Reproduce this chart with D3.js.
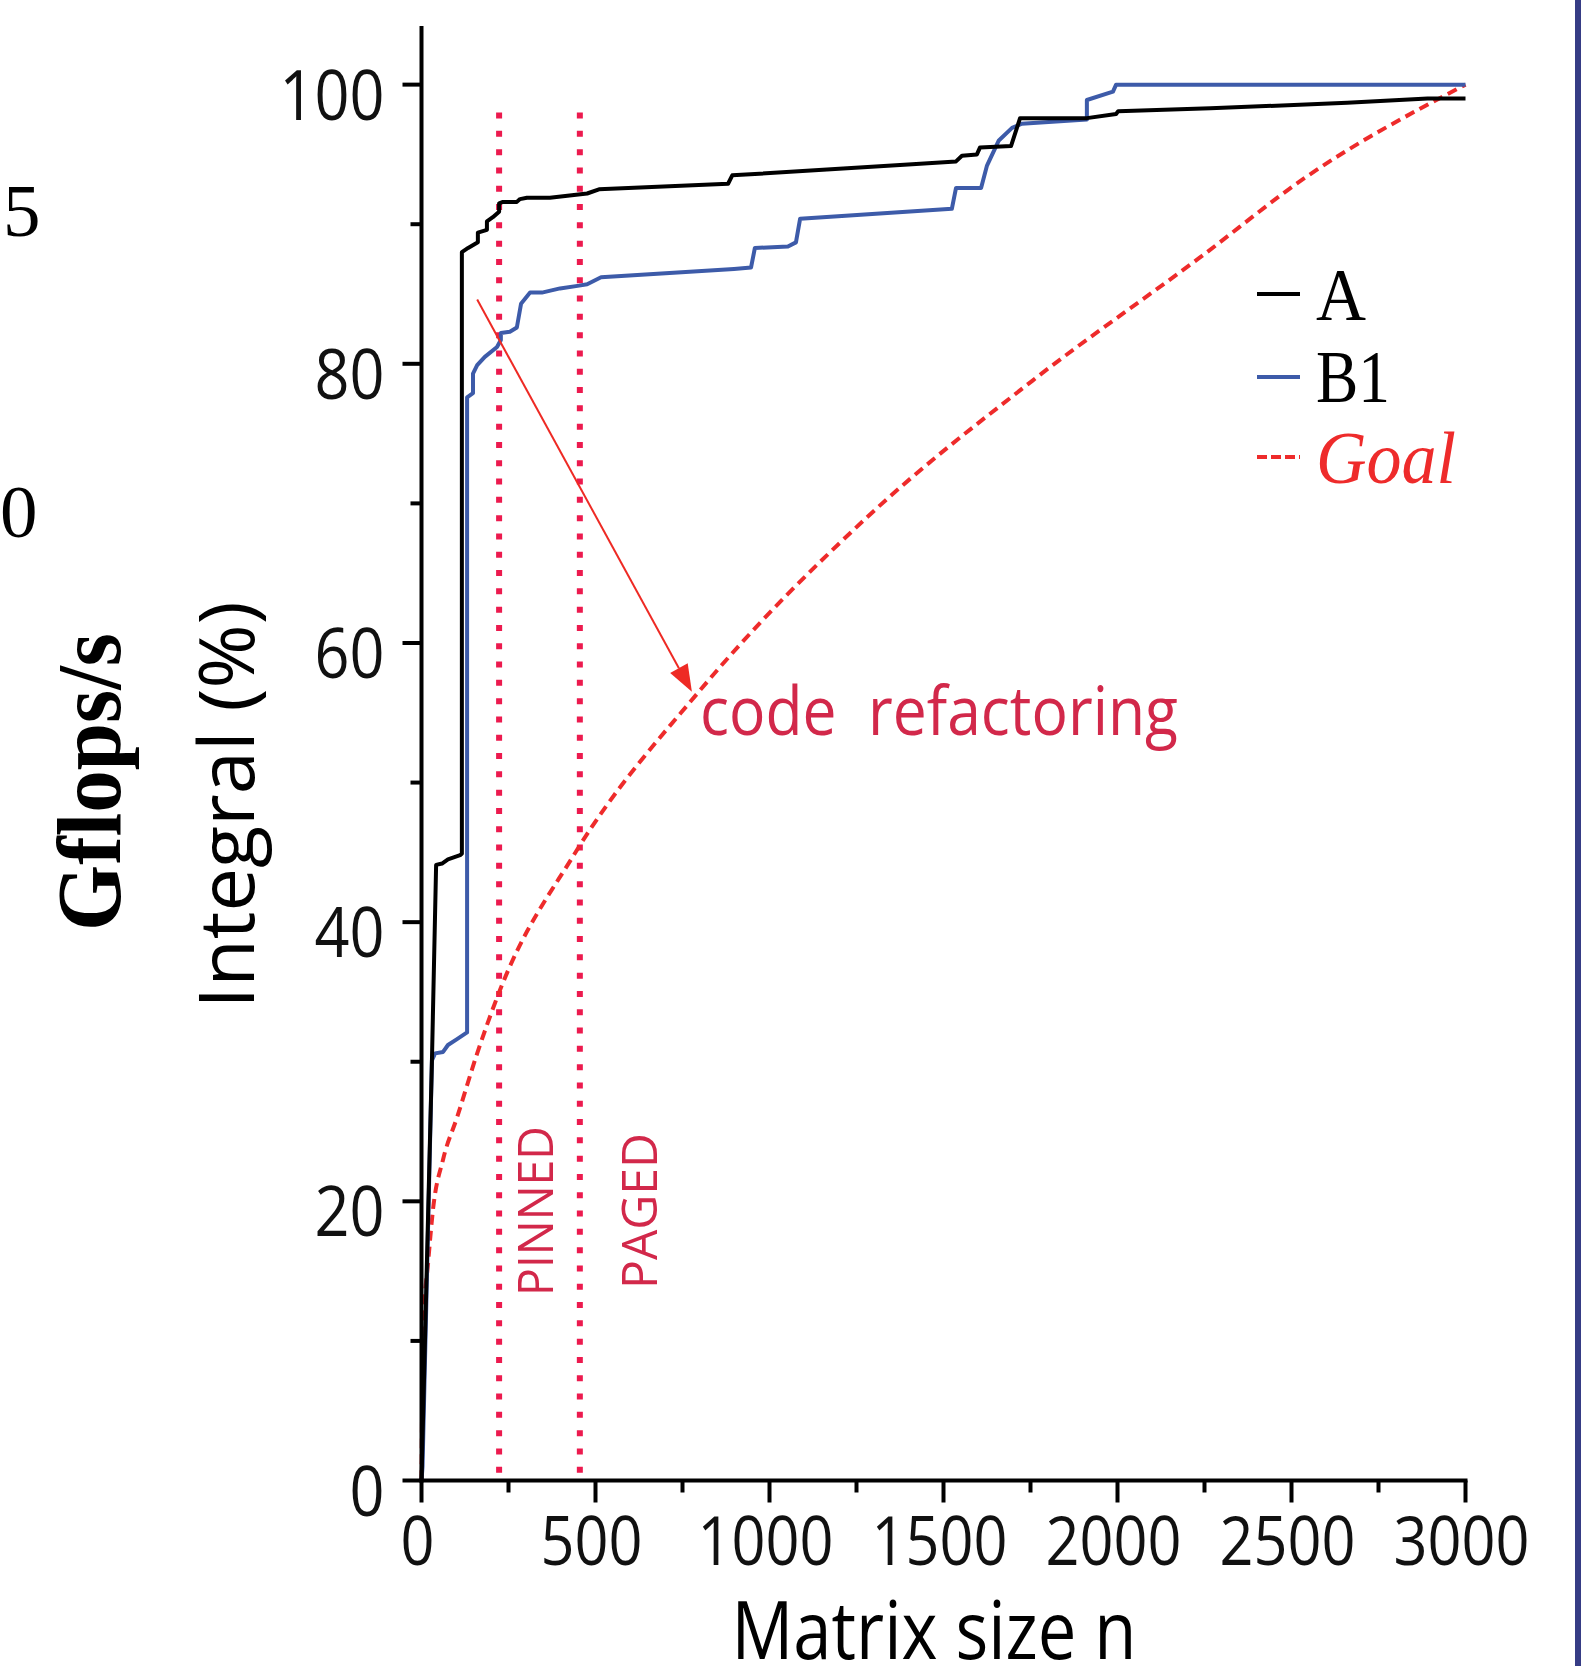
<!DOCTYPE html>
<html><head><meta charset="utf-8">
<script src="https://cdn.jsdelivr.net/npm/d3@7"></script>
<style>
html,body{margin:0;padding:0;background:#fff;}
svg{display:block;}
</style></head>
<body>
<script>
// ---- data ----
const aX = [0, 30, 42, 59, 76, 111, 116, 116, 134, 162, 162, 188, 188, 205, 223, 223, 234, 274, 283, 303, 369, 476, 510, 881, 893, 1410, 1536, 1553, 1596, 1605, 1694, 1720, 1912, 1996, 2002, 2267, 2660, 2891, 3000];
const aY = [0, 30.1, 44.1, 44.2, 44.5, 44.8, 44.9, 88.0, 88.3, 88.7, 89.4, 89.6, 90.2, 90.5, 90.9, 91.5, 91.6, 91.6, 91.8, 91.9, 91.9, 92.2, 92.5, 92.9, 93.5, 94.3, 94.5, 94.9, 95.0, 95.5, 95.6, 97.6, 97.6, 97.9, 98.1, 98.3, 98.7, 99.0, 99.0];
const bX = [0, 3, 30, 39, 62, 76, 101, 131, 131, 148, 148, 160, 182, 217, 228, 228, 254, 274, 286, 312, 346, 398, 453, 476, 516, 898, 947, 958, 1053, 1076, 1088, 1524, 1536, 1608, 1625, 1659, 1697, 1725, 1912, 1912, 1987, 1996, 3000];
const bY = [0, 1, 30.1, 30.6, 30.7, 31.2, 31.6, 32.1, 77.6, 77.9, 79.3, 79.9, 80.5, 81.2, 81.7, 82.2, 82.3, 82.6, 84.3, 85.1, 85.1, 85.4, 85.6, 85.7, 86.2, 86.8, 86.9, 88.3, 88.4, 88.7, 90.4, 91.1, 92.6, 92.6, 94.2, 96.0, 96.9, 97.2, 97.5, 98.9, 99.5, 100, 100];
const goalX = [0, 2, 4.3, 19, 33, 62, 102, 160, 225, 440, 800, 1280, 1756, 2236, 2543, 3000];
const goalY = [0, 6, 11, 15.6, 19.4, 23, 26, 30.6, 35.1, 44.9, 56.6, 69.0, 78.8, 87.6, 93.4, 100];
const xMajorTicks = [0, 500, 1000, 1500, 2000, 2500, 3000];
const xMinorTicks = [250, 750, 1250, 1750, 2250, 2750];
const yMajorTicks = [0, 20, 40, 60, 80, 100];
const yMinorTicks = [10, 30, 50, 70, 90];
const regionLines = [{x: 223, label: "PINNED"}, {x: 455, label: "PAGED"}];
const legendLabels = ["A", "B1", "Goal"];
const arrowFrom = [160, 84.6];
const arrowTo = [777, 56.5];

// ---- layout ----
const W = 1581, H = 1666;
const svg = d3.select("body").append("svg").attr("width", W).attr("height", H);
const x = d3.scaleLinear().domain([0, 3000]).range([421.5, 1465.5]);
const y = d3.scaleLinear().domain([0, 104.2]).range([1480.5, 26]);

const RED_TXT = "#d2284a";
const SANS = "'Open Sans', sans-serif";
const SERIF = "'Liberation Serif', 'Times New Roman', serif";

// right frame bar
svg.append("rect").attr("x", 1575).attr("y", 0).attr("width", 6).attr("height", H).attr("fill", "#363c85");

// clipped left labels from neighbouring panel
svg.append("text").attr("x", 3).attr("y", 236).attr("font-family", SERIF).attr("font-size", 75).text("5");
svg.append("text").attr("x", 0).attr("y", 537).attr("font-family", SERIF).attr("font-size", 75).text("0");
svg.append("text").attr("transform", "translate(120,782) rotate(-90)")
  .attr("text-anchor", "middle").attr("font-family", SERIF).attr("font-weight", "bold")
  .attr("font-size", 90).attr("textLength", 298).attr("lengthAdjust", "spacingAndGlyphs").text("Gflops/s");

// region dotted lines
regionLines.forEach((r, i) => {
  svg.append("line").attr("x1", x(r.x)).attr("x2", x(r.x)).attr("y1", y(98)).attr("y2", y(0))
    .attr("stroke", "#ec1a4e").attr("stroke-width", 6).attr("stroke-dasharray", "6,12.3");
  svg.append("text").attr("transform", `translate(${x(r.x) + (i === 0 ? 54 : 77)},1211) rotate(-90)`)
    .attr("text-anchor", "middle").attr("font-family", SANS).attr("font-size", 50)
    .attr("fill", RED_TXT).attr("textLength", i === 0 ? 170 : 156).attr("lengthAdjust", "spacingAndGlyphs")
    .text(r.label);
});

// lines
const line = d3.line().x(d => x(d[0])).y(d => y(d[1]));
svg.append("path").datum(goalX.map((v, i) => [v, goalY[i]]))
  .attr("d", d3.line().x(d => x(d[0])).y(d => y(d[1])).curve(d3.curveMonotoneX))
  .attr("fill", "none").attr("stroke", "#ee2b2b").attr("stroke-width", 4).attr("stroke-dasharray", "10,6");
svg.append("path").datum(bX.map((v, i) => [v, bY[i]])).attr("d", line)
  .attr("fill", "none").attr("stroke", "#3d5ba9").attr("stroke-width", 4).attr("stroke-linejoin", "round");
svg.append("path").datum(aX.map((v, i) => [v, aY[i]])).attr("d", line)
  .attr("fill", "none").attr("stroke", "#000").attr("stroke-width", 4).attr("stroke-linejoin", "round");

// arrow
{
  const x1 = x(arrowFrom[0]), y1 = y(arrowFrom[1]), x2 = x(arrowTo[0]), y2 = y(arrowTo[1]);
  const ang = Math.atan2(y2 - y1, x2 - x1);
  const L = 27, Wd = 10;
  const bx = x2 - L * Math.cos(ang), by = y2 - L * Math.sin(ang);
  svg.append("line").attr("x1", x1).attr("y1", y1).attr("x2", bx).attr("y2", by)
    .attr("stroke", "#ee2a24").attr("stroke-width", 2);
  const px = -Math.sin(ang), py = Math.cos(ang);
  svg.append("path").attr("d", `M${x2},${y2}L${bx + px * Wd},${by + py * Wd}L${bx - px * Wd},${by - py * Wd}Z`)
    .attr("fill", "#ee2a24");
}
svg.append("text").attr("x", 700).attr("y", 735).attr("font-family", SANS).attr("font-size", 68)
  .attr("fill", RED_TXT).style("white-space", "pre").attr("textLength", 478).attr("lengthAdjust", "spacingAndGlyphs")
  .text("code  refactoring");

// axes
const axG = svg.append("g").attr("stroke", "#000").attr("stroke-width", 4);
axG.append("line").attr("x1", x(0)).attr("x2", x(0)).attr("y1", y(104.2)).attr("y2", y(0) + 2);
axG.append("line").attr("x1", x(0) - 2).attr("x2", x(3000) + 2).attr("y1", y(0)).attr("y2", y(0));
yMajorTicks.forEach(t => axG.append("line").attr("x1", x(0) - 19).attr("x2", x(0)).attr("y1", y(t)).attr("y2", y(t)));
yMinorTicks.forEach(t => axG.append("line").attr("x1", x(0) - 11).attr("x2", x(0)).attr("y1", y(t)).attr("y2", y(t)));
xMajorTicks.forEach(t => axG.append("line").attr("x1", x(t)).attr("x2", x(t)).attr("y1", y(0)).attr("y2", y(0) + 22));
xMinorTicks.forEach(t => axG.append("line").attr("x1", x(t)).attr("x2", x(t)).attr("y1", y(0)).attr("y2", y(0) + 12));

svg.append("g").selectAll("text").data(yMajorTicks).join("text")
  .attr("x", x(0) - 37).attr("y", d => y(d) + 35).attr("text-anchor", "end")
  .attr("font-family", SANS).attr("font-size", 70).attr("fill", "#111")
  .attr("textLength", d => String(d).length * 35).attr("lengthAdjust", "spacingAndGlyphs")
  .text(d => String(d));
svg.append("g").selectAll("text").data(xMajorTicks).join("text")
  .attr("x", d => x(d) - 4).attr("y", y(0) + 84).attr("text-anchor", "middle")
  .attr("font-family", SANS).attr("font-size", 68).attr("fill", "#111")
  .attr("textLength", d => String(d).length * 34).attr("lengthAdjust", "spacingAndGlyphs")
  .text(d => String(d));

svg.append("text").attr("x", 934).attr("y", 1659).attr("text-anchor", "middle")
  .attr("font-family", SANS).attr("font-size", 80).attr("fill", "#000")
  .attr("textLength", 405).attr("lengthAdjust", "spacingAndGlyphs").text("Matrix size n");
svg.append("text").attr("transform", "translate(254,805) rotate(-90)").attr("text-anchor", "middle")
  .attr("font-family", SANS).attr("font-size", 76).attr("fill", "#000")
  .attr("textLength", 407).attr("lengthAdjust", "spacingAndGlyphs").text("Integral (%)");

// legend
const legColors = ["#000", "#3d5ba9", "#ee2b2b"];
const legLineY = [294, 377, 457];
const legTextY = [320, 402, 483];
const legLen = [50, 74, 140];
legendLabels.forEach((lab, i) => {
  svg.append("line").attr("x1", 1257).attr("x2", 1300).attr("y1", legLineY[i]).attr("y2", legLineY[i])
    .attr("stroke", legColors[i]).attr("stroke-width", 4).attr("stroke-dasharray", i === 2 ? "10,4" : null);
  svg.append("text").attr("x", 1316).attr("y", legTextY[i]).attr("font-family", SERIF).attr("font-size", 74)
    .attr("font-style", i === 2 ? "italic" : "normal").attr("fill", i === 2 ? "#ee2b2b" : "#000")
    .attr("textLength", legLen[i]).attr("lengthAdjust", "spacingAndGlyphs").text(lab);
});
</script>
</body></html>
